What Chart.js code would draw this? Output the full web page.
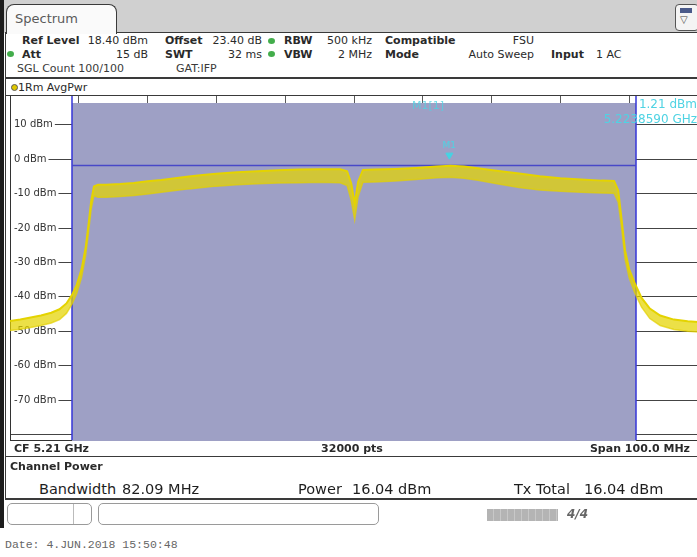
<!DOCTYPE html>
<html>
<head>
<meta charset="utf-8">
<title>Spectrum – Channel Power</title>
<script src="https://cdn.jsdelivr.net/npm/chart.js@4.4.1/dist/chart.umd.min.js"></script>
<style>
  html, body { margin:0; padding:0; width:697px; height:557px; overflow:hidden; background:#fff; }
  body { position:relative; font-family:"DejaVu Sans", sans-serif; color:#2a2a2a; }
  .a { position:absolute; white-space:nowrap; line-height:1; }
  .f11 { font-size:11px; }
  .b { font-weight:bold; }
  .hl { position:absolute; background:#3a3a3a; }
  .dot { position:absolute; width:7px; height:6px; border-radius:50%; background:#43ad4b; }
  .big { font-size:14.5px; color:#1e1e1e; }
  .cy { color:#4fd3e3; }
  #plot { position:absolute; left:5px; top:90px; }
</style>
</head>
<body>
<!-- window chrome -->
<div class="a" style="left:0;top:0;width:697px;height:33px;background:#d0d0d0"></div>
<div class="a" style="left:5px;top:32px;width:692px;height:468px;background:#fff;border-left:1.5px solid #3a3a3a;border-top:1.5px solid #3a3a3a;border-bottom:2px solid #3a3a3a;box-sizing:border-box"></div>
<div class="a" style="left:6px;top:4px;width:111px;height:30px;background:#fafafa;border:1.5px solid #3a3a3a;border-bottom:none;border-radius:8px 8px 0 0;box-sizing:border-box"></div>
<div class="a" style="left:15px;top:11.5px;font-size:13px;color:#5a5a5a">Spectrum</div>
<div class="a" style="left:675px;top:4px;width:24px;height:27px;background:#f4f4f4;border:1px solid #555;border-radius:4px;box-sizing:border-box"></div>
<div class="a" style="left:680px;top:8px;width:12px;height:5px;background:#4a5a8a"></div>
<div class="a" style="left:680px;top:15px;font-size:10px;color:#444">▽</div>
<div class="a" style="left:0;top:0;width:4px;height:528px;background:#1c1c1c"></div>

<!-- settings panel -->
<div class="a f11 b" style="left:22px;top:35px">Ref Level</div>
<div class="a f11" style="right:549px;top:35px">18.40 dBm</div>
<div class="a f11 b" style="left:165px;top:35px">Offset</div>
<div class="a f11" style="right:435px;top:35px">23.40 dB</div>
<div class="dot" style="left:268px;top:37.5px"></div>
<div class="a f11 b" style="left:284px;top:35px">RBW</div>
<div class="a f11" style="right:325px;top:35px">500 kHz</div>
<div class="a f11 b" style="left:385px;top:35px">Compatible</div>
<div class="a f11" style="right:163px;top:35px">FSU</div>

<div class="dot" style="left:7px;top:51px"></div>
<div class="a f11 b" style="left:22px;top:48.5px">Att</div>
<div class="a f11" style="right:549px;top:48.5px">15 dB</div>
<div class="a f11 b" style="left:165px;top:48.5px">SWT</div>
<div class="a f11" style="right:435px;top:48.5px">32 ms</div>
<div class="dot" style="left:268px;top:51px"></div>
<div class="a f11 b" style="left:284px;top:48.5px">VBW</div>
<div class="a f11" style="right:325px;top:48.5px">2 MHz</div>
<div class="a f11 b" style="left:385px;top:48.5px">Mode</div>
<div class="a f11" style="right:163px;top:48.5px">Auto Sweep</div>
<div class="a f11 b" style="left:551px;top:48.5px">Input</div>
<div class="a f11" style="left:596px;top:48.5px">1 AC</div>

<div class="a f11" style="left:17px;top:62.5px;color:#3a3a3a">SGL Count 100/100</div>
<div class="a f11" style="left:176px;top:62.5px;color:#3a3a3a">GAT:IFP</div>
<div class="hl" style="left:5px;top:77px;width:692px;height:1.5px"></div>

<!-- trace legend row -->
<div class="a" style="left:11px;top:84px;width:5px;height:5px;border-radius:50%;background:#e0c800;border:1px solid #5a5a5a"></div>
<div class="a f11" style="left:18px;top:81.5px">1Rm AvgPwr</div>
<div class="hl" style="left:5px;top:95px;width:692px;height:1px"></div>

<!-- diagram -->
<canvas id="plot" width="698" height="355"></canvas>

<!-- marker readout -->
<div class="a cy" style="left:412px;top:100px;font-size:11px;opacity:0.8">M1[1]</div>
<div class="a cy" style="right:0;top:97.5px;font-size:12px">1.21 dBm</div>
<div class="a cy" style="right:0;top:113px;font-size:12px">5.2238590 GHz</div>

<!-- diagram footer -->
<div class="a f11 b" style="left:14px;top:442.5px">CF 5.21 GHz</div>
<div class="a f11 b" style="left:302px;top:442.5px;width:100px;text-align:center">32000 pts</div>
<div class="a f11 b" style="right:7px;top:442.5px">Span 100.0 MHz</div>
<div class="hl" style="left:5px;top:455.5px;width:692px;height:1.5px"></div>

<!-- channel power results -->
<div class="a f11 b" style="left:10px;top:460.5px">Channel Power</div>
<div class="a big" style="left:39px;top:482px">Bandwidth</div>
<div class="a big" style="left:122px;top:482px">82.09 MHz</div>
<div class="a big" style="left:298px;top:482px">Power</div>
<div class="a big" style="left:352px;top:482px">16.04 dBm</div>
<div class="a big" style="left:514px;top:482px">Tx Total</div>
<div class="a big" style="left:584px;top:482px">16.04 dBm</div>

<!-- status bar -->
<div class="a" style="left:7px;top:503px;width:85px;height:22px;border:1px solid #9a9a9a;border-radius:5px;box-sizing:border-box"></div>
<div class="a" style="left:73px;top:504px;width:1px;height:20px;background:#bbb"></div>
<div class="a" style="left:98px;top:503px;width:281px;height:22px;border:1px solid #9a9a9a;border-radius:5px;box-sizing:border-box"></div>
<div class="a" style="left:487px;top:509px;width:71px;height:12px;background:repeating-linear-gradient(90deg,#b4b4b4 0 6px,#c8c8c8 6px 7px)"></div>
<div class="a" style="left:567px;top:508px;font-size:12px;font-weight:bold;color:#666;font-style:italic">4/4</div>

<div class="a" style="left:5px;top:539px;font-family:'Liberation Mono',monospace;font-size:11.5px;color:#666">Date: 4.JUN.2018  15:50:48</div>

<script>
// Sweep: CF 5.21 GHz, span 100 MHz, ref level 18.4 dBm, 10 dB/div
const freqMHz = [
  5160.0, 5161.5, 5163.0, 5164.5, 5166.0, 5167.2, 5168.2, 5169.0, 5169.7, 5170.4,
  5171.0, 5171.4, 5171.8, 5172.2, 5172.8, 5174.0, 5176.0, 5178.0, 5180.0, 5182.0,
  5184.0, 5186.0, 5188.0, 5190.0, 5193.0, 5196.0, 5199.0, 5202.0, 5205.0, 5208.0,
  5209.0, 5209.6, 5210.1, 5210.6, 5211.3, 5213.0, 5216.0, 5219.0, 5222.0, 5224.0,
  5226.0, 5228.0, 5231.0, 5234.0, 5237.0, 5240.0, 5243.0, 5246.0, 5247.8, 5248.4,
  5248.9, 5249.4, 5250.0, 5250.8, 5251.8, 5253.0, 5254.5, 5256.5, 5258.5, 5260.0
];
// upper edge of the averaged trace (dBm)
const traceUpper = [
  -47.0, -46.6, -46.0, -45.4, -44.6, -43.6, -41.9, -39.5, -36.5, -32.0,
  -25.6, -19.2, -12.2, -7.9, -7.4, -7.4, -7.2, -6.9, -6.4, -6.0,
  -5.5, -5.0, -4.6, -4.2, -3.8, -3.5, -3.2, -3.0, -2.9, -2.9,
  -3.5, -7.0, -13.0, -6.5, -3.1, -3.0, -2.8, -2.5, -2.1, -1.9,
  -2.1, -2.6, -3.4, -4.1, -4.9, -5.5, -5.9, -6.2, -6.3, -9.0,
  -17.5, -26.5, -32.0, -36.0, -40.3, -43.4, -45.4, -46.6, -47.1, -47.3
];
// lower edge of the averaged trace (dBm)
const traceLower = [
  -49.8, -49.4, -48.9, -48.3, -47.6, -46.6, -44.8, -42.2, -39.0, -34.4,
  -27.9, -21.4, -14.5, -10.6, -11.0, -11.0, -10.8, -10.5, -10.1, -9.6,
  -9.1, -8.6, -8.2, -7.8, -7.4, -7.1, -6.9, -6.8, -6.7, -6.8,
  -7.6, -12.0, -17.6, -10.8, -6.7, -6.6, -6.3, -5.9, -5.4, -5.2,
  -5.5, -6.1, -7.2, -8.2, -8.9, -9.3, -9.6, -9.8, -9.9, -12.5,
  -20.0, -29.0, -34.5, -38.8, -43.0, -46.3, -48.3, -49.5, -50.0, -50.2
];
const levelTicks = [10, 0, -10, -20, -30, -40, -50, -60, -70, -80];
const markerFreqMHz = [5223.859];
const markerLevel = [1.21];

const startMHz = 5160, stopMHz = 5260, freqDivMHz = 10;
const refLevel = 18.4, levelRange = 100;
const channelCenterMHz = 5210, channelBandwidthMHz = 82.09;
const channelLevelLine = -1.8;
const channelShadeTop = 16.35;

const channelPower = {
  id: 'channelPower',
  beforeDatasetsDraw(chart) {
    const { ctx, chartArea, scales: { x, y } } = chart;
    const x1 = Math.round(x.getPixelForValue(channelCenterMHz - channelBandwidthMHz / 2));
    const x2 = Math.round(x.getPixelForValue(channelCenterMHz + channelBandwidthMHz / 2));
    const yTop = Math.round(y.getPixelForValue(channelShadeTop));
    ctx.save();
    ctx.fillStyle = '#9ea0c5';
    ctx.fillRect(x1, yTop, x2 - x1, chartArea.bottom - yTop + 1);
    ctx.strokeStyle = '#3636d8';
    ctx.lineWidth = 1.5;
    ctx.beginPath();
    ctx.moveTo(x1, chartArea.top); ctx.lineTo(x1, chartArea.bottom);
    ctx.moveTo(x2, chartArea.top); ctx.lineTo(x2, chartArea.bottom);
    ctx.stroke();
    const yl = Math.round(y.getPixelForValue(channelLevelLine)) + 0.5;
    ctx.strokeStyle = '#4848c8';
    ctx.lineWidth = 1.5;
    ctx.beginPath();
    ctx.moveTo(x1, yl); ctx.lineTo(x2, yl);
    ctx.stroke();
    ctx.restore();
  },
  afterDatasetsDraw(chart) {
    const { ctx, scales: { x, y } } = chart;
    ctx.save();
    ctx.fillStyle = '#4fd3e3';
    ctx.font = '9px "DejaVu Sans"';
    ctx.textAlign = 'center';
    ctx.textBaseline = 'bottom';
    markerFreqMHz.forEach((f, i) => {
      ctx.fillText('M1', x.getPixelForValue(f), y.getPixelForValue(markerLevel[i]) - 5);
    });
    ctx.restore();
  }
};

// axes sit flush with the diagram frame: no reserved room for labels or ticks
const flushX = (s) => { s.height = 0; s.paddingLeft = 0; s.paddingRight = 0; s.paddingTop = 0; s.paddingBottom = 0; };
const flushY = (s) => { s.width = 0; s.paddingLeft = 0; s.paddingRight = 0; s.paddingTop = 0; s.paddingBottom = 0; };

Chart.defaults.font.family = '"DejaVu Sans", sans-serif';

new Chart(document.getElementById('plot'), {
  type: 'line',
  data: {
    datasets: [
      {
        label: 'M1',
        data: markerFreqMHz.map((f, i) => ({ x: f, y: markerLevel[i] })),
        showLine: false,
        pointStyle: 'triangle',
        rotation: 180,
        pointRadius: 4,
        backgroundColor: '#45d3e3',
        borderColor: '#45d3e3',
        order: -1
      },
      {
        label: '1Rm AvgPwr',
        data: freqMHz.map((f, i) => ({ x: f, y: traceUpper[i] })),
        borderColor: '#e4d300',
        borderWidth: 2,
        pointRadius: 0,
        fill: false,
        order: 1
      },
      {
        label: '1Rm AvgPwr (min)',
        data: freqMHz.map((f, i) => ({ x: f, y: traceLower[i] })),
        borderColor: 'rgba(226,208,0,0.7)',
        borderWidth: 1.5,
        pointRadius: 0,
        fill: '-1',
        backgroundColor: 'rgba(228,212,0,0.72)',
        order: 2
      }
    ]
  },
  options: {
    responsive: false,
    animation: false,
    devicePixelRatio: 1,
    events: [],
    layout: { padding: { left: 5, top: 6, right: 0, bottom: 2 } },
    plugins: { legend: { display: false }, tooltip: { enabled: false } },
    scales: {
      x: {
        type: 'linear',
        min: startMHz,
        max: stopMHz,
        afterFit: flushX,
        ticks: { display: false, stepSize: freqDivMHz },
        grid: { color: '#5a5a5a', lineWidth: 1, drawTicks: false },
        border: { display: true, color: '#333', width: 1 }
      },
      y: {
        type: 'linear',
        position: 'left',
        min: refLevel - levelRange,
        max: refLevel,
        afterFit: flushY,
        afterBuildTicks: (s) => { s.ticks = levelTicks.map(v => ({ value: v })); },
        ticks: {
          mirror: true,
          padding: 4,
          color: '#333',
          font: { size: 10 },
          callback: (v) => (v === -80 ? '' : v + ' dBm'),
          showLabelBackdrop: (c) => c.tick && c.tick.value !== -80,
          backdropColor: '#ffffff',
          backdropPadding: { top: 1, bottom: 1, left: 3, right: 2 }
        },
        grid: { color: '#444', lineWidth: 1, drawTicks: false },
        border: { display: true, color: '#333', width: 1 }
      }
    }
  },
  plugins: [channelPower]
});
</script>
</body>
</html>
